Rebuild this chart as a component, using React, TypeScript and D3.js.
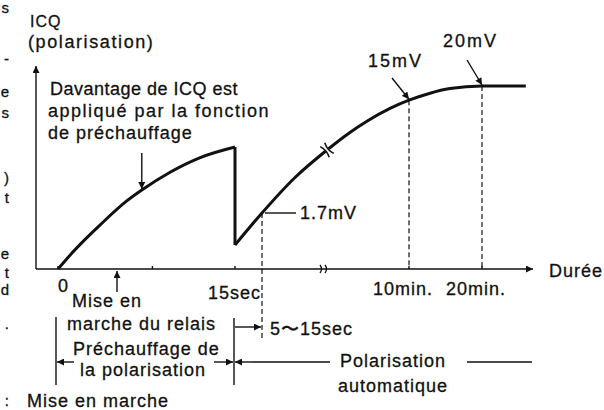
import React from 'react';
import * as d3 from 'd3';

// time (s) and ICQ level (arbitrary units)
const preheatT = [0, 1, 2.3, 3.6, 5.8, 7.1, 9.5, 12, 15];
const preheatIcq = [0, 6.8, 14.8, 22.2, 33.9, 39.5, 48.4, 55.6, 61];
const autoT = [15, 20, 40, 60, 211, 323, 475, 600, 773, 937, 1200, 1560];
const autoIcq = [12, 28, 45.5, 59.5, 68.3, 73.9, 80.3, 84.4, 87.9, 90.2, 91.5, 91.5];

const tickT = [0, 15, 600, 1200];
const tickLabels = ['0', '15sec', '10min.', '20min.'];
const minorTickT = [8];
const relayT = 5;
const breakT = 60;
const markerT = [20, 600, 1200];
const markerLabels = ['1.7mV', '15mV', '20mV'];

// broken time axis: seconds, then minutes
const timeStops = [0, 15, 20, 60, 600, 1200];

// fragments of the neighbouring page column on the left edge
const marginChars = ['s', '-', 'e', 's', ')', 't', 'e', 't', 'd', '.', ':'];
const marginY = [13, 64, 97, 118, 183, 203, 259, 278, 295, 329, 406];

const W = 604;
const H = 410;
const FONT = "'Liberation Sans', Arial, sans-serif";

const App = () => {
  const x = d3.scaleLinear().domain(timeStops).range([58, 235, 262, 327, 409, 482]);
  const y = d3.scaleLinear().domain([0, 100]).range([269, 69]);
  const axisY = y(0);
  const axisX = 36;

  const line = d3
    .line<[number, number]>()
    .x((d) => x(d[0]))
    .y((d) => y(d[1]))
    .curve(d3.curveMonotoneX);

  const preheat = preheatT.map((t, i) => [t, preheatIcq[i]] as [number, number]);
  const auto = autoT.map((t, i) => [t, autoIcq[i]] as [number, number]);
  const icqAt = (t) => {
    const arr = t <= 15 ? preheat : auto;
    for (let i = 1; i < arr.length; i++) {
      if (t <= arr[i][0]) {
        const k = (t - arr[i - 1][0]) / (arr[i][0] - arr[i - 1][0]);
        return arr[i - 1][1] + k * (arr[i][1] - arr[i - 1][1]);
      }
    }
    return arr[arr.length - 1][1];
  };

  const txt = { fontFamily: FONT, fontSize: 18, letterSpacing: 1, fill: '#111', stroke: '#111', strokeWidth: 0.3 };
  const thin = { stroke: '#111', strokeWidth: 1.4, fill: 'none' };
  const dash = { stroke: '#111', strokeWidth: 1.2, strokeDasharray: '5,3', fill: 'none' };

  const bx = x(breakT);
  const by = y(icqAt(breakT));
  const x15 = x(15);
  const x17 = x(markerT[0]);
  const preArrowT = 7.1;

  return (
    <svg width={W} height={H} style={{ position: 'absolute', left: 0, top: 0, background: '#fff' }}>
      <defs>
        <marker id="ah" viewBox="0 0 10 10" refX="10" refY="5" markerWidth="9" markerHeight="7" orient="auto" markerUnits="userSpaceOnUse">
          <path d="M0,0 L10,5 L0,10 z" fill="#111" />
        </marker>
      </defs>

      {marginChars.map((c, i) => (
        <text key={'m' + i} x={9} y={marginY[i]} textAnchor="end" style={{ ...txt, fontSize: 15, letterSpacing: 0 }}>
          {c}
        </text>
      ))}

      {/* axes */}
      <line x1={axisX} y1={axisY} x2={axisX} y2={66} {...thin} markerEnd="url(#ah)" />
      <line x1={axisX} y1={axisY} x2={533} y2={axisY} {...thin} markerEnd="url(#ah)" />
      <path d={`M${bx - 7},${axisY - 4} q3,4 0,8 M${bx - 2},${axisY - 4} q3,4 0,8`} stroke="#111" strokeWidth={1.3} fill="none" />
      {tickT.concat(minorTickT).map((t, i) => (
        <line key={'t' + i} x1={x(t)} x2={x(t)} y1={axisY} y2={axisY - 3} {...thin} />
      ))}
      {tickT.map((t, i) => (
        <text key={'l' + i} x={i === 0 ? x(t) : x(t) - (i === 1 ? 27 : 36)} y={i === 0 ? 292 : i === 1 ? 299 : 295} style={txt}>
          {tickLabels[i]}
        </text>
      ))}
      <text x={549} y={277} style={txt}>Durée</text>

      {/* axis title */}
      <text x={30} y={27} style={{ ...txt, fontSize: 16 }}>ICQ</text>
      <text x={28} y={48} style={{ ...txt, letterSpacing: 1.6 }}>(polarisation)</text>

      {/* marker guides */}
      {markerT.map((t, i) => (
        <line key={'d' + i} x1={x(t)} x2={x(t)} y1={y(icqAt(t))} y2={i === 0 ? 340 : axisY} {...dash} />
      ))}

      {/* ICQ curve */}
      <path d={line(preheat)} stroke="#111" strokeWidth={3} fill="none" />
      <line x1={x15} x2={x15} y1={y(preheatIcq[preheatIcq.length - 1])} y2={y(autoIcq[0])} stroke="#111" strokeWidth={3} />
      <path d={line(auto)} stroke="#111" strokeWidth={3} fill="none" />
      <rect x={bx - 2} y={by - 6} width={4} height={12} fill="#fff" transform={`rotate(-40 ${bx} ${by})`} />
      <path
        d={`M${bx - 3},${by - 7} q3,7 0,14 M${bx + 3},${by - 7} q-3,7 0,14`}
        stroke="#111"
        strokeWidth={1.5}
        fill="none"
        transform={`rotate(-40 ${bx} ${by})`}
      />

      {/* curve annotations */}
      <text x={50} y={95} style={{ ...txt, letterSpacing: 0.5 }}>Davantage de ICQ est</text>
      <text x={48} y={117} style={{ ...txt, letterSpacing: 1.5 }}>appliqué par la fonction</text>
      <text x={48} y={139} style={txt}>de préchauffage</text>
      <line x1={x(preArrowT)} x2={x(preArrowT)} y1={153} y2={y(icqAt(preArrowT)) - 1} {...thin} markerEnd="url(#ah)" />

      <line x1={x17 + 3} x2={296} y1={y(icqAt(markerT[0]))} y2={y(icqAt(markerT[0]))} {...thin} />
      <text x={300} y={219} style={txt}>{markerLabels[0]}</text>
      <line x1={x(markerT[1]) - 17} y1={78} x2={x(markerT[1])} y2={y(icqAt(markerT[1])) - 1} {...thin} markerEnd="url(#ah)" />
      <text x={368} y={67} style={{ ...txt, letterSpacing: 2 }}>{markerLabels[1]}</text>
      <line x1={x(markerT[2]) - 15} y1={60} x2={x(markerT[2])} y2={y(icqAt(markerT[2])) - 1} {...thin} markerEnd="url(#ah)" />
      <text x={443} y={47} style={{ ...txt, letterSpacing: 2 }}>{markerLabels[2]}</text>

      {/* relay switch-on */}
      <line x1={x(relayT)} x2={x(relayT)} y1={292} y2={axisY + 2} {...thin} markerEnd="url(#ah)" />
      <text x={72} y={307} style={txt}>Mise en</text>
      <text x={67} y={330} style={txt}>marche du relais</text>

      {/* phase brackets */}
      <line x1={56} x2={56} y1={317} y2={385} {...thin} />
      <line x1={x15 - 1} x2={x15 - 1} y1={318} y2={385} {...thin} />
      <line x1={x15} x2={x17 - 1} y1={327} y2={327} {...thin} markerEnd="url(#ah)" />
      <text x={270} y={335} style={txt}>5〜15sec</text>

      <line x1={74} x2={57} y1={362} y2={362} {...thin} markerEnd="url(#ah)" />
      <text x={73} y={355} style={txt}>Préchauffage de</text>
      <text x={80} y={376} style={txt}>la polarisation</text>
      <line x1={214} x2={x15 - 2} y1={362} y2={362} {...thin} markerEnd="url(#ah)" />
      <line x1={252} x2={x15} y1={362} y2={362} {...thin} markerEnd="url(#ah)" />
      <line x1={252} x2={330} y1={362} y2={362} {...thin} />
      <text x={340} y={367} style={txt}>Polarisation</text>
      <line x1={467} x2={532} y1={362} y2={362} {...thin} />
      <text x={338} y={392} style={txt}>automatique</text>

      <text x={27} y={407} style={txt}>Mise en marche</text>
    </svg>
  );
};

export default App;
